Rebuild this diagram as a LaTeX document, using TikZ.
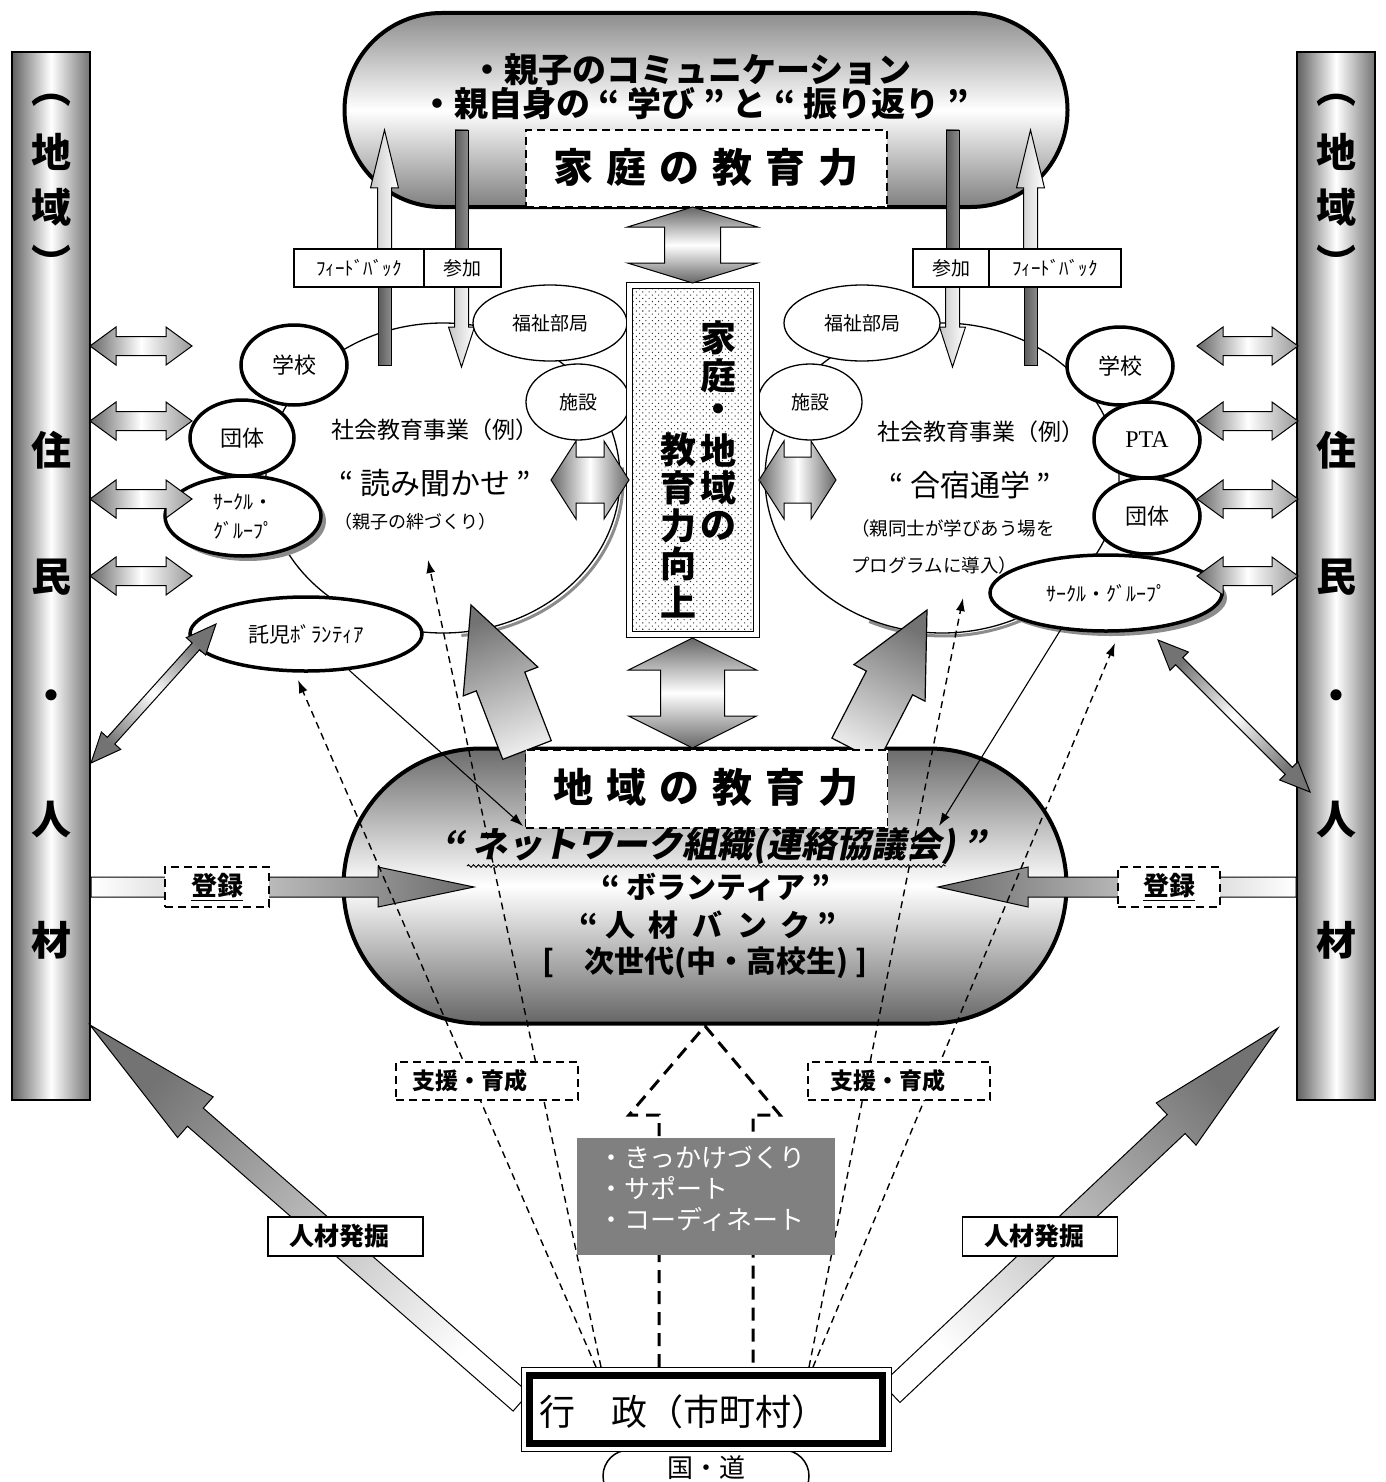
\documentclass[tikz,border=0pt]{standalone}
\usepackage{fontspec}
\setmainfont{Noto Sans CJK JP}
\newfontfamily\jpsl{Noto Sans CJK JP}[FakeSlant=0.2]
\newfontfamily\tms{Liberation Serif}
\usetikzlibrary{calc,shapes.misc,shapes.geometric,patterns.meta,decorations.pathmorphing,arrows.meta}
\newcommand\fsz[1]{\fontsize{#1}{#1}\selectfont}
% single block arrow: style, tail, tip, shaft half width, head half width, head length
\newcommand\sarrow[6]{%
  \coordinate (saT) at #2;
  \coordinate (saP) at #3;
  \coordinate (saB) at ($(saP)!#6pt!(saT)$);
  \path[#1] ($(saT)!#4pt!90:(saP)$) -- ($(saB)!#4pt!-90:(saT)$) -- ($(saB)!#5pt!-90:(saT)$) -- (saP) -- ($(saB)!#5pt!90:(saT)$) -- ($(saB)!#4pt!90:(saT)$) -- ($(saT)!#4pt!-90:(saP)$) -- cycle;}
% double block arrow
\newcommand\darrow[6]{%
  \coordinate (daA) at #2;
  \coordinate (daZ) at #3;
  \coordinate (daP) at ($(daA)!#6pt!(daZ)$);
  \coordinate (daQ) at ($(daZ)!#6pt!(daA)$);
  \path[#1] (daA) -- ($(daP)!#5pt!90:(daZ)$) -- ($(daP)!#4pt!90:(daZ)$) -- ($(daQ)!#4pt!-90:(daA)$) -- ($(daQ)!#5pt!-90:(daA)$) -- (daZ) -- ($(daQ)!#5pt!90:(daA)$) -- ($(daQ)!#4pt!90:(daA)$) -- ($(daP)!#4pt!-90:(daZ)$) -- ($(daP)!#5pt!-90:(daZ)$) -- cycle;}
\tikzset{
  pillar/.style={draw, line width=2pt, minimum width=78, minimum height=1048, left color=black!62, right color=black!55, middle color=white},
  capsule/.style={rounded rectangle, draw, line width=4pt, minimum width=723},
  dashbox/.style={draw, line width=1.6pt, dash pattern=on 8pt off 5pt, fill=white},
  thinbox/.style={draw, line width=1.5pt, fill=white},
  thinell/.style={ellipse, draw, line width=1.3pt, fill=white},
  thickell/.style={ellipse, draw, line width=3.5pt, fill=white},
  conn/.style={line width=1.1pt, -{Latex[length=13pt,width=9pt]}},
  dconn/.style={line width=1.4pt, dash pattern=on 7pt off 5pt, -{Latex[length=13pt,width=9pt]}},
  bigdash/.style={line width=3pt, dash pattern=on 13pt off 8pt},
  hdbl/.style={draw, line width=1pt, left color=black!60, right color=black!40, middle color=white},
  vdbl/.style={draw, line width=1pt, top color=black!60, bottom color=black!60, middle color=white},
}
\begin{document}
\begin{tikzpicture}[x=1pt,y=-1pt,every node/.style={inner sep=0pt}]
\path[use as bounding box] (0,0) rectangle (1385,1482);
\clip (0,0) rectangle (1385,1482);
\fill[white] (0,0) rectangle (1385,1482);

% ---------- pillars
\node[pillar] (pillL) at (51,576) {};
\node[pillar] (pillR) at (1336,576) {};
\foreach \px/\side in {51/L,1336/R}{
  \foreach \ch/\py [count=\i] in {︵/100,地/152,域/207,︶/262,住/450,民/577,・/700,人/820,材/940}{
    \node[font={\fsz{40}\bfseries}] (pt\side\i) at (\px,\py) {\ch};
  }
}

% ---------- capsules
\node[capsule, minimum height=194, top color=black!45, bottom color=black!50, middle color=white] (capT) at (706,110) {};
\node[capsule, minimum height=275, top color=black!58, bottom color=black!60, middle color=white] (capB) at (705,886) {};

% ---------- big circles
\coordinate (cL) at (443,478);
\coordinate (cR) at (942,478);
\draw[black!45, line width=3pt] ($(cL)+(3,3)+(-5:177 and 155)$) arc[start angle=-5,end angle=85,x radius=177,y radius=155];
\draw[line width=1.3pt] (cL) ellipse [x radius=177, y radius=155];
\draw[black!45, line width=3pt] ($(cR)+(2,3)+(55:177 and 155)$) arc[start angle=55,end angle=115,x radius=177,y radius=155];
\draw[line width=1.3pt] (cR) ellipse [x radius=177, y radius=155];

% ---------- feedback / participation arrows
\path[draw, line width=0.8pt, left color=black!65, right color=black!45] (378,268) rectangle (391,365);
\coordinate (fbL0) at (384.5,268); \coordinate (fbL1) at (384.5,130);
\sarrow{draw, line width=1pt, left color=black!22, right color=white}{(fbL0)}{(fbL1)}{7}{14}{58}
\path[draw, line width=0.8pt, left color=black!65, right color=black!45] (455,130) rectangle (468,268);
\coordinate (skL0) at (461.5,268); \coordinate (skL1) at (461.5,367);
\sarrow{draw, line width=1pt, left color=black!22, right color=white}{(skL0)}{(skL1)}{7}{13}{40}
\path[draw, line width=0.8pt, left color=black!65, right color=black!45] (946,130) rectangle (959,268);
\coordinate (skR0) at (952.5,268); \coordinate (skR1) at (952.5,367);
\sarrow{draw, line width=1pt, left color=black!22, right color=white}{(skR0)}{(skR1)}{7}{13}{40}
\path[draw, line width=0.8pt, left color=black!65, right color=black!45] (1024,268) rectangle (1037,365);
\coordinate (fbR0) at (1030.5,268); \coordinate (fbR1) at (1030.5,130);
\sarrow{draw, line width=1pt, left color=black!22, right color=white}{(fbR0)}{(fbR1)}{7}{14}{58}

% ---------- big gray arrows from the lower capsule
\coordinate (bgL0) at (527,750); \coordinate (bgL1) at (471,605);
\sarrow{draw, line width=1.2pt, top color=black!55, bottom color=black!8, shading angle=21}{(bgL0)}{(bgL1)}{26}{40}{82}
\coordinate (bgR0) at (855,750); \coordinate (bgR1) at (927,610);
\sarrow{draw, line width=1.2pt, top color=black!55, bottom color=black!8, shading angle=-27}{(bgR0)}{(bgR1)}{26}{40}{82}

% ---------- left group
\node[thinell, minimum width=154, minimum height=76, font=\fsz{19}] (fukuL) at (550,323) {福祉部局};
\node[thinell, minimum width=104, minimum height=76, font=\fsz{19}] (shiL) at (578,402) {施設};
\node[thickell, minimum width=106, minimum height=80, font=\fsz{22}] (gakL) at (294,365) {学校};
\node[thickell, minimum width=104, minimum height=76, font=\fsz{22}] (danL) at (242,438) {団体};
\fill[black!45] (248,521) ellipse [x radius=78, y radius=40];
\node[thickell, minimum width=156, minimum height=80, font=\fontsize{20}{29}\selectfont, align=left] (circL) at (243,516) {ｻｰｸﾙ・\\ｸﾞﾙｰﾌﾟ};
\node[thickell, minimum width=232, minimum height=74, font=\fsz{21}] (takL) at (306,634) {託児ﾎﾞﾗﾝﾃｨｱ};

% ---------- right group
\node[thinell, minimum width=156, minimum height=76, font=\fsz{19}] (fukuR) at (862,323) {福祉部局};
\node[thinell, minimum width=104, minimum height=76, font=\fsz{19}] (shiR) at (810,402) {施設};
\node[thickell, minimum width=106, minimum height=78, font=\fsz{22}] (gakR) at (1120,366) {学校};
\node[thickell, minimum width=106, minimum height=76, font={\tms\fsz{24}}] (ptaR) at (1147,440) {PTA};
\node[thickell, minimum width=106, minimum height=76, font=\fsz{22}] (danR) at (1147,516) {団体};
\fill[black!45] (1111,598) ellipse [x radius=116, y radius=38];
\node[thickell, minimum width=232, minimum height=76, font=\fsz{20}] (circR) at (1106,593) {ｻｰｸﾙ・ｸﾞﾙｰﾌﾟ};

% ---------- circle texts
\node[font=\fsz{23}] (evL1) at (435,430) {社会教育事業（例）};
\node[font=\fsz{30}] (evL2) at (435,483) {“ 読み聞かせ ”};
\node[font=\fsz{18}] (evL3) at (415,522) {（親子の絆づくり）};
\node[font=\fsz{23}] (evR1) at (981,432) {社会教育事業（例）};
\node[font=\fsz{30}] (evR2) at (970,485) {“ 合宿通学 ”};
\node[font=\fsz{18.5}, anchor=west] (evR3) at (851,528) {（親同士が学びあう場を};
\node[font=\fsz{18.5}, anchor=west] (evR4) at (851,565) {プログラムに導入）};

% ---------- feedback labels
\node[thinbox, minimum width=130, minimum height=38, font=\fsz{19}] (fbBoxL) at (359,268) {ﾌｨｰﾄﾞﾊﾞｯｸ};
\node[thinbox, minimum width=77, minimum height=38, font=\fsz{19}] (skBoxL) at (462.5,268) {参加};
\node[thinbox, minimum width=76, minimum height=38, font=\fsz{19}] (skBoxR) at (951,268) {参加};
\node[thinbox, minimum width=132, minimum height=38, font=\fsz{19}] (fbBoxR) at (1055,268) {ﾌｨｰﾄﾞﾊﾞｯｸ};

% ---------- top capsule texts
\node[font={\fsz{34}\bfseries}] (tT1) at (691,70) {・親子のコミュニケーション};
\node[font={\fsz{34}\bfseries}] (tT2) at (695,104) {・親自身の “ 学び ” と “ 振り返り ”};
\node[dashbox, minimum width=361, minimum height=77] (famBox) at (706.5,168.5) {};
\node[font={\fsz{40}\bfseries}] (famTxt) at (706,167) {家\kern13pt 庭\kern13pt の\kern13pt 教\kern13pt 育\kern13pt 力};

% ---------- centre column
\node[draw, line width=1.3pt, fill=white, minimum width=133, minimum height=355] (col) at (693,460) {};
\node[draw, line width=1pt, minimum width=121, minimum height=343, pattern={Dots[distance=4.5pt,radius=0.75pt,angle=45]}, pattern color=black!80] (colIn) at (693,460) {};
\foreach \ch/\py [count=\i] in {家/338,庭/376,・/413,地/450,域/488,の/526}
  \node[font={\fsz{36}\bfseries}] (colR\i) at (718,\py) {\ch};
\foreach \ch/\py [count=\i] in {教/450,育/488,力/526,向/564,上/602}
  \node[font={\fsz{36}\bfseries}] (colL\i) at (678,\py) {\ch};

% ---------- double arrows
\darrow{vdbl}{(692.5,207)}{(692.5,283)}{28}{65}{20}
\darrow{vdbl}{(692.5,638)}{(692.5,748)}{32}{64}{32}
\darrow{draw, line width=1pt, left color=black!60, right color=black!60, middle color=white}{(551,480)}{(629,480)}{23}{39}{25}
\darrow{draw, line width=1pt, left color=black!60, right color=black!60, middle color=white}{(759,480)}{(836,480)}{23}{39}{25}
\foreach \yy in {346,421,499,576}{
  \darrow{hdbl}{(90,\yy)}{(192,\yy)}{9.5}{19}{26}
  \darrow{hdbl}{(1197,\yy)}{(1298,\yy)}{9.5}{19}{26}
}
\darrow{draw, line width=1pt, top color=black!55, bottom color=black!55, middle color=white, shading angle=-42}{(91,763)}{(216,624)}{5}{13}{30}
\darrow{draw, line width=1pt, top color=black!55, bottom color=black!55, middle color=white, shading angle=45}{(1158,640)}{(1310,792)}{5}{13}{30}

% ---------- lower capsule texts
\node[dashbox, minimum width=362, minimum height=78] (locBox) at (706.5,789) {};
\node[font={\fsz{40}\bfseries}] (locTxt) at (706,787) {地\kern13pt 域\kern13pt の\kern13pt 教\kern13pt 育\kern13pt 力};
\node[font={\fsz{35}\jpsl\bfseries}] (netTxt) at (714,846) {“ ネットワーク組織(連絡協議会) ”};
\coordinate (wavL) at (467,866); \coordinate (wavR) at (946,866);
\draw[decorate, decoration={snake,amplitude=1.3pt,segment length=5pt}, line width=0.9pt] (wavL) -- (wavR);
\node[font={\fsz{30}\bfseries}] (volTxt) at (716,887) {“ ボランティア ”};
\node[font={\fsz{30}\bfseries}] (bankTxt) at (708,925) {“ 人\kern14pt 材\kern14pt バ\kern14pt ン\kern14pt ク ”};
\node[font={\fsz{30}\bfseries}] (nextTxt) at (705,963) {[\quad 次世代(中・高校生) ]};

% ---------- registration arrows
\sarrow{draw, line width=1pt, left color=white, right color=black!58}{(pillL.east |- 0,887)}{(474,887)}{10}{20}{96}
\node[dashbox, minimum width=104, minimum height=40, font={\fsz{26}\bfseries}] (regL) at (217,887) {\underline{登録}};
\sarrow{draw, line width=1pt, left color=black!58, right color=white}{(pillR.west |- 0,887)}{(938,887)}{10}{20}{90}
\node[dashbox, minimum width=102, minimum height=40, font={\fsz{26}\bfseries}] (regR) at (1169,887) {\underline{登録}};

% ---------- thin connectors into the network
\coordinate (tkEnd) at (523,826);
\draw[conn] (takL.-40) -- (tkEnd);
\coordinate (crEnd) at (939,826);
\draw[conn] (circR.-141) -- (crEnd);

% ---------- talent discovery arrows
\coordinate (jzL0) at (521,1402); \coordinate (jzL1) at (90,1025);
\sarrow{draw, line width=1pt, top color=black!55, bottom color=white, shading angle=49}{(jzL0)}{(jzL1)}{12}{27}{140}
\coordinate (jzR0) at (891,1393); \coordinate (jzR1) at (1278,1028);
\sarrow{draw, line width=1pt, top color=black!55, bottom color=white, shading angle=-45}{(jzR0)}{(jzR1)}{13}{29}{140}
\node[thinbox, minimum width=155, minimum height=39] (jzBoxL) at (345.5,1236.5) {};
\node[font={\fsz{25}\bfseries}] (jzTxtL) at (339,1236) {人材発掘};
\node[thinbox, minimum width=155, minimum height=39] (jzBoxR) at (1040,1236.5) {};
\node[font={\fsz{25}\bfseries}] (jzTxtR) at (1034,1236) {人材発掘};

% ---------- dashed support lines
\coordinate (gyoTL1) at (601,1367); \coordinate (yomiTip) at (428,560);
\coordinate (gyoTL2) at (596,1367); \coordinate (takTip) at (298,680);
\coordinate (gyoTR1) at (809,1367); \coordinate (gasTip) at (963,598);
\coordinate (gyoTR2) at (813,1367); \coordinate (crTip) at (1115,643);
\draw[dconn] (gyoTL1) -- (yomiTip);
\draw[dconn] (gyoTL2) -- (takTip);
\draw[dconn] (gyoTR1) -- (gasTip);
\draw[dconn] (gyoTR2) -- (crTip);

% ---------- thick dashed outline arrow
\coordinate (gyoC1) at (659,1367); \coordinate (gyoC2) at (753,1367); \coordinate (apex) at (705,1026);
\draw[bigdash] (gyoC1) -- (659,1115) -- (629,1115) -- (apex) -- (780,1115) -- (753,1115) -- (gyoC2);

% ---------- gray box
\node[fill=black!50, minimum width=258, minimum height=117] (grayBox) at (706,1196.5) {};
\node[anchor=west, text=white, font={\fontsize{26}{31}\selectfont}, align=left] (grayTxt) at (598,1189) {・きっかけづくり\\・サポート\\・コーディネート};

% ---------- support boxes
\node[dashbox, minimum width=182, minimum height=38] (shienL) at (487,1081) {};
\node[font={\fsz{23}\bfseries}] (shienLt) at (470,1081) {支援・育成};
\node[dashbox, minimum width=182, minimum height=38] (shienR) at (899,1081) {};
\node[font={\fsz{23}\bfseries}] (shienRt) at (888,1081) {支援・育成};

% ---------- administration
\node[rounded rectangle, draw, line width=1.5pt, fill=white, minimum width=206, minimum height=52] (kuni) at (706,1476) {};
\node[font=\fsz{26}] (kuniTxt) at (706,1468) {国・道};
\node[draw, line width=1pt, fill=white, minimum width=370, minimum height=84] (gyoOut) at (706,1409) {};
\node[draw, line width=7pt, minimum width=353, minimum height=68] (gyo) at (706,1409) {};
\node[font=\fsz{36}] (gyoTxt) at (683,1412) {行　政（市町村）};
\end{tikzpicture}
\end{document}
